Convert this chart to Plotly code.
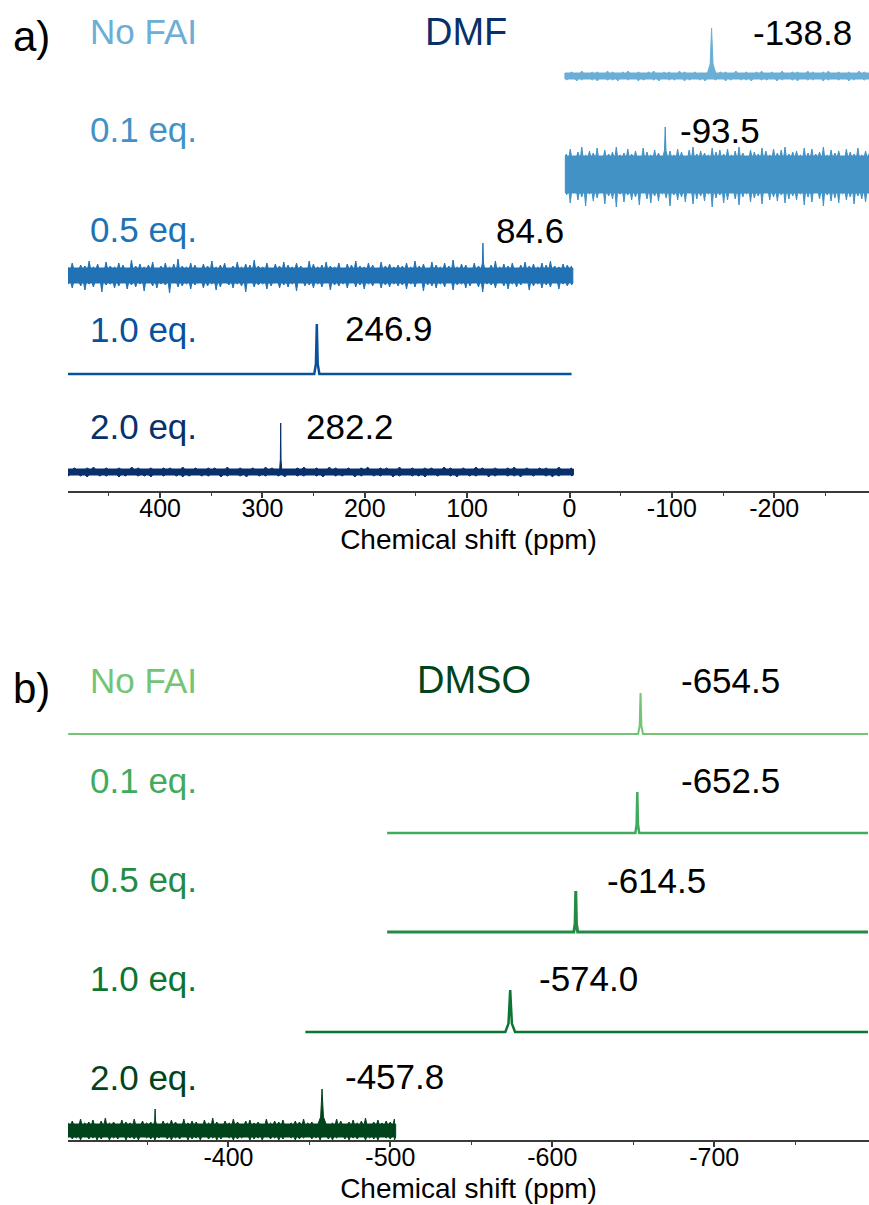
import numpy as np
import plotly.graph_objects as go

# ---------------- page geometry (layout only) ----------------
W, H = 869, 1205
ML, MR, MT, MB = 68, 0, 0, 65
PW = W - ML - MR
PH = H - MT - MB

# ---------------- DATA : panel a) DMF ----------------
dmf_labels = ["No FAI", "0.1 eq.", "0.5 eq.", "1.0 eq.", "2.0 eq."]
dmf_peak_ppm = [-138.8, -93.5, 84.6, 246.9, 282.2]
dmf_peak_text = ["-138.8", "-93.5", "84.6", "246.9", "282.2"]
dmf_peak_height = [48, 46, 32, 50, 49]          # above baseline (px units)
dmf_peak_halfwidth = [4.0, 2.0, 1.5, 2.5, 1.0]  # ppm at base
dmf_span_start = [3, 3, 490, 490, 490]
dmf_span_end = [-293, -293, -2, -2, -2]

dmf_ticks = [400, 300, 200, 100, 0, -100, -200]
dmf_tick_text = ["400", "300", "200", "100", "0", "-100", "-200"]
dmf_minor_ticks = [450, 350, 250, 150, 50, -50, -150, -250]

# noise excursions (upper / lower, px units)
dmf_nofai_hi = [3, 4, 3, 5, 3, 4, 4, 3, 5, 4, 3, 4, 5, 3, 4, 3, 4, 5, 3, 4,
                4, 3, 5, 4, 3, 4, 3, 5, 4, 3, 4, 4, 3, 5, 3, 4, 3, 4, 5, 3,
                4, 3, 5, 3, 4, 4, 3, 5, 4, 3, 4, 5, 3, 4, 3, 4, 3, 5, 4, 3]
dmf_nofai_lo = [-4, -3, -5, -4, -3, -4, -5, -3, -4, -4, -5, -3, -4, -3, -5, -4, -3, -4, -5, -3,
                -4, -4, -3, -5, -4, -3, -4, -5, -3, -4, -3, -5, -4, -3, -4, -4, -5, -3, -4, -4,
                -3, -5, -4, -3, -4, -5, -3, -4, -4, -3, -5, -4, -3, -4, -3, -5, -4, -3, -4, -4]
dmf_01_hi = [19, 24, 17, 21, 26, 18, 22, 20, 25, 17, 23, 19, 21, 26, 18, 20, 24, 19, 22, 17,
             25, 21, 18, 23, 20, 26, 19, 22, 18, 24, 21, 17, 23, 26, 19, 22, 20, 18, 25, 21,
             23, 19, 24, 18, 22, 26, 20, 17, 23, 21, 19, 25, 22, 18, 24, 20, 23, 26, 19, 21,
             22, 18, 25, 20, 24, 19, 21, 26, 18, 23, 20, 22, 17, 24, 21, 19, 25, 18, 22, 20]
dmf_01_lo = [-22, -30, -20, -27, -24, -33, -21, -28, -25, -20, -31, -23, -26, -34, -21, -29, -22, -27, -24, -32,
             -20, -26, -30, -23, -28, -21, -25, -33, -22, -27, -24, -29, -20, -31, -26, -23, -28, -21, -34, -25,
             -22, -30, -27, -20, -26, -32, -24, -21, -29, -25, -23, -31, -20, -27, -24, -28, -22, -30, -26, -23,
             -27, -21, -32, -24, -29, -20, -26, -33, -22, -28, -25, -30, -21, -27, -24, -31, -23, -26, -29, -22]
dmf_05_hi = [8, 12, 7, 10, 9, 14, 8, 11, 7, 13, 9, 8, 12, 10, 7, 15, 9, 11, 8, 10,
             13, 7, 9, 12, 8, 11, 16, 9, 8, 12, 10, 7, 11, 9, 14, 8, 10, 12, 7, 9,
             13, 8, 11, 10, 15, 9, 8, 12, 7, 11, 9, 13, 10, 8, 12, 9, 7, 14, 11, 8,
             10, 13, 9, 8, 12, 7, 11, 10, 14, 9, 8, 12, 10, 7, 13, 9, 11, 8, 10, 9,
             12, 8, 14, 9, 11, 7, 13, 10, 8, 12, 9, 15, 8, 11, 10, 7, 12, 9, 13, 8,
             10, 14, 8, 11, 9, 12, 7, 10, 13, 9, 11, 8, 12, 10, 14, 9, 8, 11, 10, 9]
dmf_05_lo = [-9, -13, -8, -11, -15, -9, -12, -8, -17, -10, -9, -13, -11, -8, -14, -10, -12, -9, -16, -8,
             -11, -13, -9, -10, -18, -8, -12, -11, -9, -14, -10, -8, -13, -11, -9, -15, -12, -8, -10, -13,
             -9, -11, -17, -8, -12, -10, -9, -14, -11, -8, -13, -10, -12, -9, -16, -8, -11, -10, -13, -9,
             -12, -8, -15, -10, -11, -9, -13, -8, -12, -10, -14, -9, -11, -8, -13, -10, -12, -9, -11, -10,
             -14, -9, -12, -8, -16, -10, -11, -13, -9, -12, -8, -15, -10, -9, -13, -11, -8, -12, -17, -9,
             -10, -13, -8, -11, -14, -9, -12, -10, -8, -15, -11, -9, -13, -10, -12, -8, -14, -9, -11, -10]
dmf_20_hi = [3, 4, 3, 4, 5, 3, 4, 3, 4, 3, 5, 4, 3, 4, 3, 4, 4, 3, 5, 3,
             4, 3, 4, 4, 3, 5, 3, 4, 3, 4, 3, 5, 4, 3, 4, 3, 4, 5, 3, 4,
             3, 5, 4, 3, 4, 3, 4, 5, 3, 4, 4, 3, 5, 3, 4, 3, 4, 4, 3, 5,
             4, 3, 4, 3, 5, 4, 3, 4, 3, 4, 5, 3, 4, 3, 4, 4, 3, 5, 3, 4]
dmf_20_lo = [-4, -3, -4, -5, -3, -4, -4, -3, -5, -4, -3, -4, -4, -5, -3, -4, -3, -4, -5, -4,
             -3, -4, -4, -3, -5, -4, -3, -4, -5, -3, -4, -4, -3, -4, -5, -3, -4, -4, -3, -4,
             -5, -3, -4, -4, -3, -5, -4, -3, -4, -4, -3, -5, -4, -3, -4, -4, -5, -3, -4, -3,
             -4, -5, -3, -4, -4, -3, -5, -4, -3, -4, -4, -5, -3, -4, -3, -4, -5, -4, -3, -4]

# ---------------- DATA : panel b) DMSO ----------------
dmso_labels = ["No FAI", "0.1 eq.", "0.5 eq.", "1.0 eq.", "2.0 eq."]
dmso_peak_ppm = [-654.5, -652.5, -614.5, -574.0, -457.8]
dmso_peak_text = ["-654.5", "-652.5", "-614.5", "-574.0", "-457.8"]
dmso_peak_height = [41, 41, 41, 42, 41]
dmso_peak_halfwidth = [1.5, 1.2, 1.2, 3.0, 2.5]
dmso_span_start = [-301, -498, -498, -447.5, -301]
dmso_span_end = [-795, -795, -795, -795, -502.5]
dmso_minor_peak_ppm = -354.7     # small extra signal in the 2.0 eq. spectrum
dmso_minor_peak_height = 21

dmso_ticks = [-400, -500, -600, -700]
dmso_tick_text = ["-400", "-500", "-600", "-700"]
dmso_minor_ticks = [-350, -450, -550, -650, -750]

dmso_20_hi = [7, 9, 6, 11, 7, 8, 10, 6, 9, 12, 7, 8, 6, 10, 8, 7, 11, 6, 9, 7,
              8, 12, 6, 9, 7, 10, 8, 6, 11, 7, 9, 8, 6, 10, 7, 12, 8, 6, 9, 7,
              11, 8, 6, 9, 10, 7, 8, 6, 11, 7, 9, 8, 10, 6, 7, 9, 8, 11, 7, 8,
              9, 6, 10, 8, 7, 11, 9, 6, 8, 10, 7, 9, 12, 6, 8, 10, 7, 9, 8, 11]
dmso_20_lo = [-7, -9, -8, -10, -7, -9, -8, -10, -9, -7, -10, -8, -9, -7, -10, -8, -9, -10, -7, -8,
              -9, -10, -8, -7, -9, -10, -8, -9, -7, -10, -9, -8, -10, -7, -9, -8, -10, -9, -7, -8,
              -10, -9, -8, -7, -10, -9, -8, -10, -7, -9, -8, -10, -9, -7, -8, -10, -9, -8, -7, -9,
              -8, -10, -7, -9, -10, -8, -7, -9, -10, -8, -9, -7, -10, -8, -9, -10, -7, -8, -9, -10]

# ---------------- styling / placement (layout only) ----------------
dmf_colors = ["#6baed6", "#4292c6", "#2171b5", "#08519c", "#08306b"]
dmso_colors = ["#74c476", "#41ab5d", "#238b45", "#0b7534", "#00441b"]
dmf_offsets = [415, 318, 216, 117, 19]       # baseline heights in panel a (px above axis)
dmso_offsets = [406, 307, 208, 108, 10]      # baseline heights in panel b
dmf_label_y = [32, 129.5, 230, 329, 426.5]
dmf_num_x = [751, 678, 494, 343, 304]
dmf_num_y = [33, 130, 231, 328, 427]
dmso_label_y = [680.5, 780, 879, 978, 1077]
dmso_num_x = [679, 679, 605, 537, 343]
dmso_num_y = [680, 780, 880, 978, 1076]

FONT = "Arial, Liberation Sans, sans-serif"


def peak_pts(p, h, hw, lvl):
    return [(p + hw, lvl), (p + hw * 0.35, lvl + (h - lvl) * 0.2),
            (p + hw * 0.08, lvl + (h - lvl) * 0.8), (p, h),
            (p - hw * 0.08, lvl + (h - lvl) * 0.8),
            (p - hw * 0.35, lvl + (h - lvl) * 0.2), (p - hw, lvl)]


def spikes(xs, vals, core, d, peaks):
    pts = []
    for x, v in zip(xs, vals):
        if any(abs(x - p) <= hw + 2 * d for p, h, hw in peaks):
            continue
        pts += [(x + d, core), (x, v), (x - d, core)]
    return pts


def band_trace(start, end, hi, lo, peaks, base, color, xa, ya):
    xs = np.linspace(start, end, len(hi))
    xl = np.linspace(start, end, len(lo))
    d = abs(xs[1] - xs[0]) * 0.3
    core_hi = float(min(hi))
    core_lo = float(max(lo))
    up = spikes(xs, hi, core_hi, d, peaks)
    for p, h, hw in peaks:
        up += peak_pts(p, h, hw, core_hi)
    up += [(start, core_hi), (end, core_hi)]
    up.sort(key=lambda t: -t[0])
    low = spikes(xl, lo, core_lo, d, [])
    low += [(start, core_lo), (end, core_lo)]
    low.sort(key=lambda t: t[0])
    px = [t[0] for t in up] + [t[0] for t in low] + [up[0][0]]
    py = [base + t[1] for t in up] + [base + t[1] for t in low] + [base + up[0][1]]
    return go.Scatter(x=px, y=py, mode="lines", fill="toself", fillcolor=color,
                      line=dict(color=color, width=1), xaxis=xa, yaxis=ya,
                      hoverinfo="skip", showlegend=False)


def line_trace(start, end, peaks, base, color, width, xa, ya):
    pts = [(start, 0.0), (end, 0.0)]
    for p, h, hw in peaks:
        pts += peak_pts(p, h, hw, 0.0)
    pts.sort(key=lambda t: -t[0])
    return go.Scatter(x=[t[0] for t in pts], y=[base + t[1] for t in pts],
                      mode="lines", line=dict(color=color, width=width),
                      xaxis=xa, yaxis=ya, hoverinfo="skip", showlegend=False)


fig = go.Figure()

# ---- panel a traces ----
dmf_bands = {0: (dmf_nofai_hi, dmf_nofai_lo), 1: (dmf_01_hi, dmf_01_lo),
             2: (dmf_05_hi, dmf_05_lo), 4: (dmf_20_hi, dmf_20_lo)}
for i in range(5):
    pk = [(dmf_peak_ppm[i], dmf_peak_height[i], dmf_peak_halfwidth[i])]
    if i in dmf_bands:
        hi, lo = dmf_bands[i]
        fig.add_trace(band_trace(dmf_span_start[i], dmf_span_end[i], hi, lo, pk,
                                 dmf_offsets[i], dmf_colors[i], "x", "y"))
    else:
        fig.add_trace(line_trace(dmf_span_start[i], dmf_span_end[i], pk,
                                 dmf_offsets[i], dmf_colors[i], 2.5, "x", "y"))

# ---- panel b traces ----
dmso_widths = [2, 2.5, 3, 2.5]
for i in range(5):
    pk = [(dmso_peak_ppm[i], dmso_peak_height[i], dmso_peak_halfwidth[i])]
    if i == 4:
        pk.append((dmso_minor_peak_ppm, dmso_minor_peak_height, 0.8))
        fig.add_trace(band_trace(dmso_span_start[i], dmso_span_end[i], dmso_20_hi, dmso_20_lo,
                                 pk, dmso_offsets[i], dmso_colors[i], "x2", "y2"))
    else:
        fig.add_trace(line_trace(dmso_span_start[i], dmso_span_end[i], pk,
                                 dmso_offsets[i], dmso_colors[i], dmso_widths[i], "x2", "y2"))


def px2paper(x, y):
    return (x - ML) / PW, 1 - (y - MT) / PH


ann = []


def add_text(text, x, y, color, size, xanchor="left"):
    px_, py_ = px2paper(x, y)
    ann.append(dict(text=text, x=px_, y=py_, xref="paper", yref="paper",
                    xanchor=xanchor, yanchor="middle", showarrow=False,
                    font=dict(family=FONT, size=size, color=color)))


for i in range(5):
    add_text(dmf_labels[i], 88, dmf_label_y[i], dmf_colors[i], 35)
    add_text(dmf_peak_text[i], dmf_num_x[i], dmf_num_y[i], "black", 35)
    add_text(dmso_labels[i], 88, dmso_label_y[i], dmso_colors[i], 35)
    add_text(dmso_peak_text[i], dmso_num_x[i], dmso_num_y[i], "black", 35)
add_text("DMF", 466, 32, "#08306b", 38, "center")
add_text("DMSO", 474, 680, "#00441b", 38, "center")
add_text("a)", 11, 37, "black", 42)
add_text("b)", 11, 688, "black", 42)

axis_common = dict(showline=True, linecolor="#3a3a3a", linewidth=1.5, mirror=False,
                   ticks="outside", ticklen=5, tickwidth=1.5, tickcolor="#3a3a3a",
                   showgrid=False, zeroline=False, tickmode="array",
                   ticklabelstandoff=-11,
                   tickfont=dict(family=FONT, size=25, color="black"),
                   title=dict(text="Chemical shift (ppm)", standoff=9,
                              font=dict(family=FONT, size=28, color="black")))

top_bottom = (PH - 491) / PH
bot_top = (PH - 660) / PH

fig.update_layout(
    width=W, height=H,
    margin=dict(l=ML, r=MR, t=MT, b=MB, autoexpand=False),
    paper_bgcolor="white", plot_bgcolor="white",
    showlegend=False,
    annotations=ann,
    xaxis=dict(axis_common, domain=[0, 1], anchor="y", range=[490, -292.6],
               tickvals=dmf_ticks, ticktext=dmf_tick_text,
               minor=dict(tickmode="array", tickvals=dmf_minor_ticks, ticklen=3,
                          tickwidth=1.2, tickcolor="#3a3a3a", ticks="outside")),
    yaxis=dict(domain=[top_bottom, 1], range=[0, 491], visible=False, anchor="x"),
    xaxis2=dict(axis_common, domain=[0, 1], anchor="y2", range=[-300.9, -795.6],
                tickvals=dmso_ticks, ticktext=dmso_tick_text,
                minor=dict(tickmode="array", tickvals=dmso_minor_ticks, ticklen=3,
                           tickwidth=1.2, tickcolor="#3a3a3a", ticks="outside")),
    yaxis2=dict(domain=[0, bot_top], range=[0, 480], visible=False, anchor="x2"),
)

fig.write_html("out.html")
